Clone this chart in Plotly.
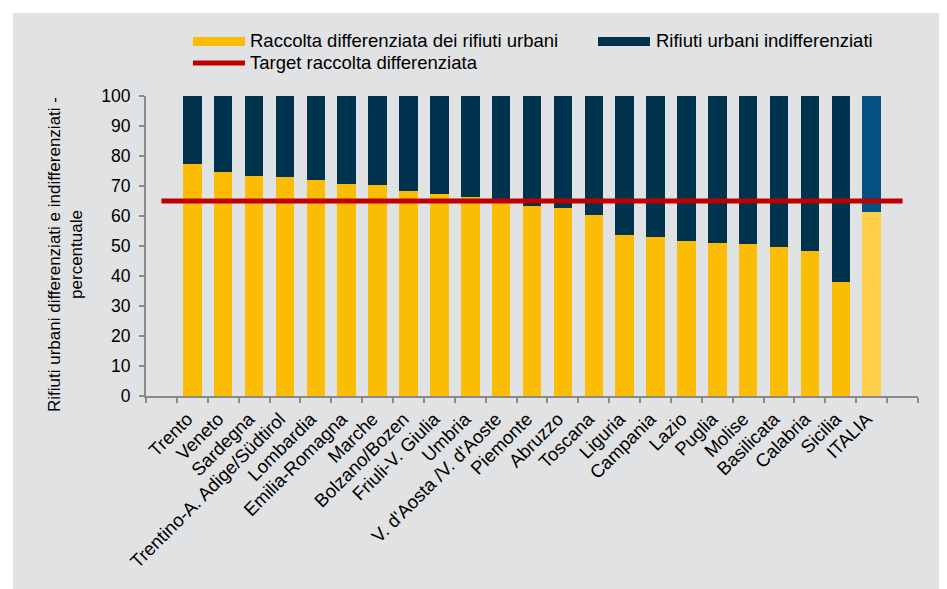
import plotly.graph_objects as go

regions = ["Trento", "Veneto", "Sardegna", "Trentino-A. Adige/Südtirol", "Lombardia",
           "Emilia-Romagna", "Marche", "Bolzano/Bozen", "Friuli-V. Giulia", "Umbria",
           "V. d'Aosta /V. d'Aoste", "Piemonte", "Abruzzo", "Toscana", "Liguria",
           "Campania", "Lazio", "Puglia", "Molise", "Basilicata", "Calabria",
           "Sicilia", "ITALIA"]
differenziata = [77.5, 74.7, 73.3, 73.1, 72.1, 70.6, 70.3, 68.4, 67.2, 66.2,
                 65.8, 63.4, 62.8, 60.4, 53.6, 52.9, 51.7, 50.9, 50.7, 49.7,
                 48.3, 38.1, 61.5]
indifferenziati = [round(100 - v, 1) for v in differenziata]
target = 65
y_ticks = list(range(0, 101, 10))

YELLOW = "#FBBC04"
NAVY = "#00334D"
YELLOW_IT = "#FFCF4A"
NAVY_IT = "#045283"
RED = "#C00000"
BG = "#E1E2E4"
FONT = "Liberation Sans, Arial, sans-serif"

n = len(regions)
xs = list(range(n))
col_d = [YELLOW_IT if r == "ITALIA" else YELLOW for r in regions]
col_i = [NAVY_IT if r == "ITALIA" else NAVY for r in regions]

fig = go.Figure()
fig.add_trace(go.Bar(x=xs, y=differenziata, marker=dict(color=col_d, line=dict(width=0)),
                     width=0.6, name="Raccolta differenziata dei rifiuti urbani", showlegend=False))
fig.add_trace(go.Bar(x=xs, y=indifferenziati, marker=dict(color=col_i, line=dict(width=0)),
                     width=0.6, name="Rifiuti urbani indifferenziati", showlegend=False))
fig.add_trace(go.Scatter(x=[-1, n], y=[target, target], mode="lines",
                         line=dict(color=RED, width=5), name="Target raccolta differenziata",
                         showlegend=False))

# page offset (body margin) and figure size
OFF = 8
FW, FH = 947 - OFF, 589 - OFF
# plot area geometry in window px
L, R, T, B = 146, 918, 96, 396
W, H = R - L, B - T
def px(x):
    return (x - L) / W
def py(y):
    return (B - y) / H

shapes = [
    dict(type="rect", xref="paper", yref="paper", x0=px(13), x1=px(980), y0=py(13), y1=py(620),
         fillcolor=BG, line=dict(width=0), layer="below"),
    # legend swatches
    dict(type="rect", xref="paper", yref="paper", x0=px(193), x1=px(245), y0=py(46), y1=py(37),
         fillcolor=YELLOW, line=dict(width=0)),
    dict(type="rect", xref="paper", yref="paper", x0=px(598), x1=px(650), y0=py(46), y1=py(37),
         fillcolor=NAVY, line=dict(width=0)),
    dict(type="line", xref="paper", yref="paper", x0=px(193), x1=px(245), y0=py(63), y1=py(63),
         line=dict(color=RED, width=5)),
]

annotations = [
    dict(xref="paper", yref="paper", x=px(248), y=py(41), xanchor="left", yanchor="middle",
         text="Raccolta differenziata dei rifiuti urbani", showarrow=False,
         font=dict(family=FONT, size=18.5, color="#000")),
    dict(xref="paper", yref="paper", x=px(654), y=py(41), xanchor="left", yanchor="middle",
         text="Rifiuti urbani indifferenziati", showarrow=False,
         font=dict(family=FONT, size=18.5, color="#000")),
    dict(xref="paper", yref="paper", x=px(248), y=py(62), xanchor="left", yanchor="middle",
         text="Target raccolta differenziata", showarrow=False,
         font=dict(family=FONT, size=18.5, color="#000")),
    dict(xref="paper", yref="paper", x=px(65), y=py(255), xanchor="center", yanchor="middle",
         text="Rifiuti urbani differenziati e indifferenziati -<br>percentuale", textangle=-90,
         showarrow=False, font=dict(family=FONT, size=17, color="#000")),
]

fig.update_layout(
    width=FW, height=FH,
    margin=dict(l=L - OFF, r=FW - (R - OFF), t=T - OFF, b=FH - (B - OFF), pad=0),
    barmode="stack",
    paper_bgcolor="white",
    plot_bgcolor=BG,
    shapes=shapes,
    annotations=annotations,
    font=dict(family=FONT, size=17, color="#000"),
    xaxis=dict(range=[-1.5, n + 0.5], tickmode="array", tickvals=xs, ticktext=regions,
               tickangle=-45, ticks="", showgrid=False, zeroline=False,
               showline=True, linecolor="#8A8A8A", linewidth=2,
               ticklabelshift=-5, ticklabelstandoff=3,
               tickfont=dict(family=FONT, size=18.5, color="#000"),
               minor=dict(tickmode="array", tickvals=[i - 0.5 for i in range(-1, n + 2)],
                          ticks="outside", ticklen=5, tickwidth=2, tickcolor="#8A8A8A",
                          showgrid=False)),
    yaxis=dict(range=[0, 100], tickmode="array", tickvals=y_ticks, ticks="outside",
               ticklen=5, tickwidth=2, tickcolor="#8A8A8A", showgrid=False, zeroline=False,
               showline=True, linecolor="#8A8A8A", linewidth=2, ticklabelstandoff=5,
               tickfont=dict(family=FONT, size=17.5, color="#000")),
)

fig.write_html("out.html")
